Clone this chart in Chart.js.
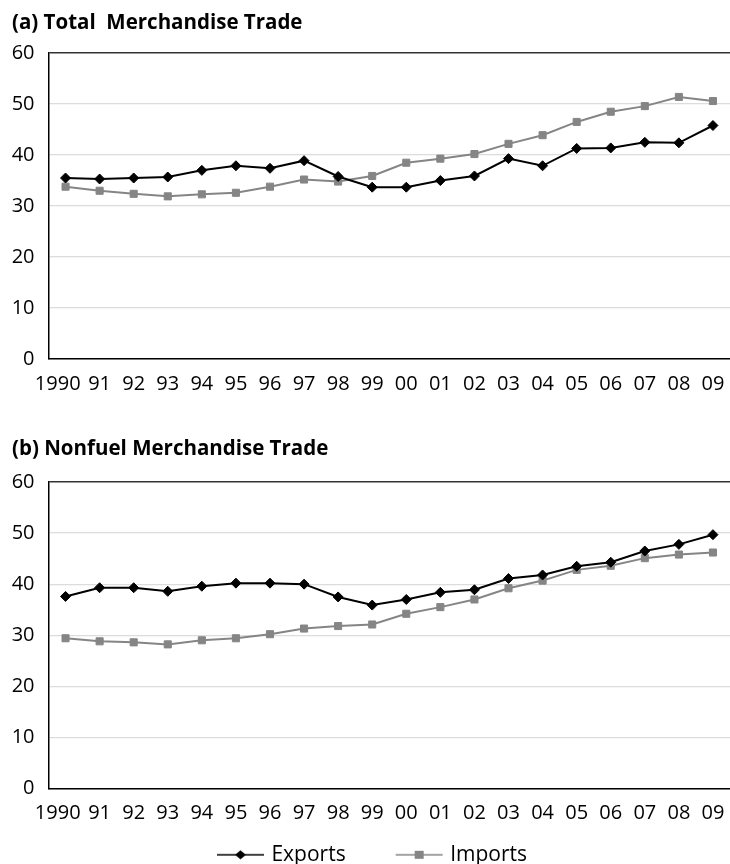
<!DOCTYPE html>
<html>
<head>
<meta charset="utf-8">
<script src="https://cdn.jsdelivr.net/npm/chart.js@4.4.1/dist/chart.umd.min.js"></script>
<style>
  html, body { margin: 0; padding: 0; background: #fff; width: 730px; height: 864px; overflow: hidden; }
  #wrapA { position: absolute; left: 0; top: 0; width: 736px; height: 400px; }
  #wrapB { position: absolute; left: 0; top: 420px; width: 736px; height: 455.3px; }
</style>
</head>
<body>
<div id="wrapA"><canvas id="chartA"></canvas></div>
<div id="wrapB"><canvas id="chartB"></canvas></div>
<script>
// years on the x axis
const years = ['1990', '91', '92', '93', '94', '95', '96', '97', '98', '99',
               '00', '01', '02', '03', '04', '05', '06', '07', '08', '09'];

// (a) total merchandise trade
const totalExports = [35.5, 35.3, 35.5, 35.7, 37.0, 37.9, 37.4, 38.9, 35.8, 33.7,
                      33.7, 35.0, 35.9, 39.3, 37.9, 41.3, 41.4, 42.5, 42.4, 45.8];
const totalImports = [33.8, 33.0, 32.4, 31.9, 32.3, 32.6, 33.8, 35.2, 34.8, 35.9,
                      38.5, 39.3, 40.2, 42.2, 43.9, 46.5, 48.5, 49.6, 51.4, 50.6];

// (b) nonfuel merchandise trade
const nonfuelExports = [37.6, 39.3, 39.3, 38.6, 39.6, 40.2, 40.2, 40.0, 37.5, 35.9,
                        37.0, 38.4, 38.9, 41.1, 41.8, 43.5, 44.3, 46.5, 47.8, 49.7];
const nonfuelImports = [29.4, 28.8, 28.6, 28.2, 29.0, 29.4, 30.2, 31.3, 31.8, 32.1,
                        34.2, 35.5, 37.0, 39.2, 40.7, 42.8, 43.6, 45.1, 45.8, 46.2];

const yTicks = [0, 10, 20, 30, 40, 50, 60];

const EXP_COLOR = '#000000';
const IMP_COLOR = '#858585';
const FONT = '"Open Sans", "Noto Sans", sans-serif';

// legend icon: a short line with the marker in the middle,
// drawn near the right end of a wider transparent picture
const ICON_BOX = 76;
function makeIcon(style, color) {
  const c = document.createElement('canvas');
  c.width = ICON_BOX + 16; c.height = 14;
  const g = c.getContext('2d');
  const x1 = c.width - 52, x2 = c.width - 5, mid = (x1 + x2) / 2;
  g.strokeStyle = color; g.lineWidth = 1.5;
  g.beginPath(); g.moveTo(x1, 7); g.lineTo(x2, 7); g.stroke();
  g.fillStyle = color;
  if (style === 'diamond') {
    g.beginPath(); g.moveTo(mid, 2.5); g.lineTo(mid + 5.5, 7); g.lineTo(mid, 11.5); g.lineTo(mid - 5.5, 7); g.closePath(); g.fill();
  } else {
    g.fillRect(mid - 4.5, 3, 9, 8);
  }
  return c;
}

function makeDatasets(exp, imp) {
  return [
    {
      label: 'Exports', data: exp,
      borderColor: EXP_COLOR, backgroundColor: EXP_COLOR, borderWidth: 2,
      pointStyle: 'rectRot', pointRadius: 5, pointBorderWidth: 1, tension: 0
    },
    {
      label: 'Imports', data: imp,
      borderColor: IMP_COLOR, backgroundColor: IMP_COLOR, borderWidth: 2,
      pointStyle: 'rect', pointRadius: 5, pointBorderWidth: 1, tension: 0
    }
  ];
}

function makeOptions(titleText, titlePad, xHeight, showLegend) {
  return {
    responsive: true,
    maintainAspectRatio: false,
    animation: false,
    layout: { padding: { left: 12, right: 0, top: 0, bottom: 0 } },
    plugins: {
      title: {
        display: true, text: titleText, align: 'start', color: '#000',
        font: { family: FONT, weight: 'bold', size: 20.5 },
        padding: titlePad
      },
      legend: {
        display: showLegend,
        position: 'bottom',
        labels: {
          usePointStyle: true,
          pointStyleWidth: ICON_BOX,
          padding: 18,
          color: '#000',
          font: { family: FONT, size: 21 },
          generateLabels: () => [
            { text: 'Exports', pointStyle: makeIcon('diamond', EXP_COLOR), datasetIndex: 0, lineWidth: 0, strokeStyle: 'transparent', fillStyle: 'transparent' },
            // trailing figure spaces keep the pair centred like the original
            { text: 'Imports\u2007\u2007\u2007', pointStyle: makeIcon('square', IMP_COLOR), datasetIndex: 1, lineWidth: 0, strokeStyle: 'transparent', fillStyle: 'transparent' }
          ]
        }
      },
      tooltip: { enabled: false }
    },
    scales: {
      x: {
        offset: true,
        grid: { display: false },
        border: { display: true, color: '#000', width: 1.5 },
        ticks: {
          color: '#000', padding: 5, maxRotation: 0, autoSkip: false,
          font: { family: FONT, size: 20 },
          // first label sits a little left of its point in the original
          callback: (v, i) => i === 0 ? years[0] + '   ' : years[i]
        },
        afterFit: (s) => { s.height = xHeight; }
      },
      y: {
        min: 0, max: 60,
        afterBuildTicks: (s) => { s.ticks = yTicks.map(v => ({ value: v })); },
        grid: {
          drawTicks: false,
          color: (c) => c.tick && c.tick.value === 60 ? '#333333' : '#dcdcdc',
          lineWidth: (c) => c.tick && c.tick.value === 60 ? 1.5 : 1.3
        },
        border: { display: true, color: '#000', width: 1.5 },
        ticks: { color: '#000', padding: 14, font: { family: FONT, size: 20 } },
        afterFit: (s) => { s.width = 36.5; }
      }
    }
  };
}

new Chart(document.getElementById('chartA'), {
  type: 'line',
  data: { labels: years, datasets: makeDatasets(totalExports, totalImports) },
  options: makeOptions('(a) Total  Merchandise Trade', { top: 11, bottom: 17.5 }, 41, false)
});

new Chart(document.getElementById('chartB'), {
  type: 'line',
  data: { labels: years, datasets: makeDatasets(nonfuelExports, nonfuelImports) },
  options: makeOptions('(b) Nonfuel Merchandise Trade', { top: 17, bottom: 20.5 }, 38, true)
});
</script>
</body>
</html>
